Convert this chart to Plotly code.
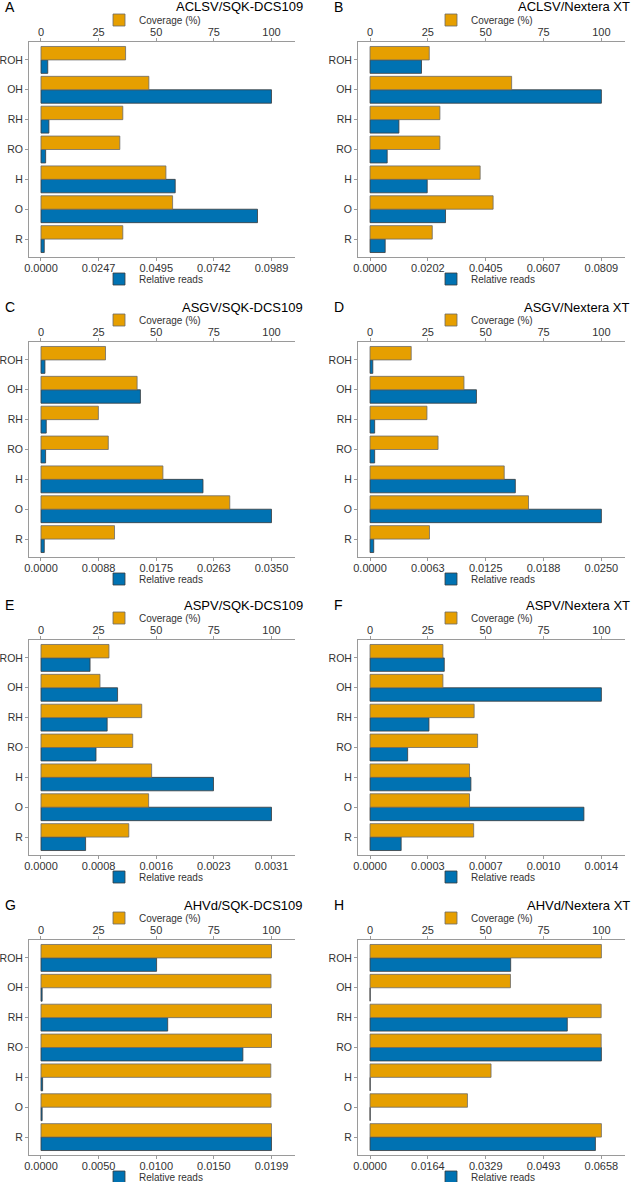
import plotly.graph_objects as go
import numpy as np

# categories from top to bottom as drawn
categories = ['ROH', 'OH', 'RH', 'RO', 'H', 'O', 'R']

panel_letters = ['A', 'B', 'C', 'D', 'E', 'F', 'G', 'H']
panel_titles = [
  'ACLSV/SQK-DCS109', 'ACLSV/Nextera XT',
  'ASGV/SQK-DCS109', 'ASGV/Nextera XT',
  'ASPV/SQK-DCS109', 'ASPV/Nextera XT',
  'AHVd/SQK-DCS109', 'AHVd/Nextera XT',
]

coverage_A = [36.7, 46.8, 35.5, 34.2, 54.2, 57.1, 35.5]
reads_A = [0.0029, 0.0989, 0.0034, 0.0020, 0.0576, 0.0929, 0.0014]
coverage_B = [25.6, 61.2, 30.2, 30.2, 47.6, 53.2, 26.9]
reads_B = [0.0180, 0.0809, 0.0101, 0.0060, 0.0200, 0.0264, 0.0053]
coverage_C = [28.0, 41.7, 24.9, 29.2, 52.9, 81.9, 31.9]
reads_C = [0.0006, 0.0151, 0.0008, 0.0007, 0.0246, 0.0350, 0.0005]
coverage_D = [17.8, 40.6, 24.6, 29.4, 58.0, 68.5, 25.7]
reads_D = [0.0003, 0.0115, 0.0005, 0.0005, 0.0157, 0.0250, 0.0004]
coverage_E = [29.5, 25.6, 43.7, 39.8, 48.0, 46.7, 38.1]
reads_E = [0.00066, 0.00103, 0.00089, 0.00074, 0.00232, 0.00310, 0.00060]
coverage_F = [31.5, 31.5, 45.0, 46.5, 43.0, 43.0, 44.8]
reads_F = [0.000446, 0.00139, 0.000354, 0.000226, 0.000606, 0.001285, 0.000187]
coverage_G = [100.0, 99.8, 100.0, 100.0, 99.7, 99.8, 100.0]
reads_G = [0.00998, 0.0001, 0.01094, 0.01743, 0.00014, 0.0001, 0.0199]
coverage_H = [100.0, 60.7, 99.9, 99.9, 52.3, 42.1, 100.0]
reads_H = [0.0400, 0.00004, 0.0561, 0.0658, 0.00004, 0.00004, 0.0641]

coverage_ticks = [0, 25, 50, 75, 100]
reads_ticktext = {
  'A': ['0.0000', '0.0247', '0.0495', '0.0742', '0.0989'],
  'B': ['0.0000', '0.0202', '0.0405', '0.0607', '0.0809'],
  'C': ['0.0000', '0.0088', '0.0175', '0.0263', '0.0350'],
  'D': ['0.0000', '0.0063', '0.0125', '0.0188', '0.0250'],
  'E': ['0.0000', '0.0008', '0.0016', '0.0023', '0.0031'],
  'F': ['0.0000', '0.0003', '0.0007', '0.0010', '0.0014'],
  'G': ['0.0000', '0.0050', '0.0100', '0.0150', '0.0199'],
  'H': ['0.0000', '0.0164', '0.0329', '0.0493', '0.0658'],
}

coverage = [coverage_A, coverage_B, coverage_C, coverage_D,
            coverage_E, coverage_F, coverage_G, coverage_H]
reads = [reads_A, reads_B, reads_C, reads_D,
         reads_E, reads_F, reads_G, reads_H]

ORANGE = '#E69F00'
BLUE = '#0072B2'
FRAME = '#9a9a9a'
TEXT = '#333333'
FONT = 'Liberation Sans, Arial, sans-serif'

W, H = 634, 1182
col_px = [(29, 295), (358, 625)]
row_top_px = [42, 342, 640, 940]
frame_h = 215
title_right_px = [305, 632]
letter_px = [3, 332]
legend_mid_px = [156, 488]

fig = go.Figure()
layout = dict(
  width=W, height=H,
  margin=dict(l=0, r=0, t=0, b=0, autoexpand=False),
  plot_bgcolor='white', paper_bgcolor='white',
  barmode='overlay',
  font=dict(family=FONT, size=11, color=TEXT),
)
annotations = []

for k in range(8):
  r, c = k // 2, k % 2
  letter = panel_letters[k]
  x0, x1 = col_px[c]
  top = row_top_px[r]
  bottom = top + frame_h
  xdom = [x0 / W, x1 / W]
  ydom = [1 - bottom / H, 1 - top / H]

  xb = 2 * k + 1
  xt = 2 * k + 2
  yi = k + 1
  xb_name = 'x' if xb == 1 else f'x{xb}'
  xt_name = f'x{xt}'
  y_name = 'y' if yi == 1 else f'y{yi}'
  leg_cov = 'legend' if k == 0 else f'legend{2 * k + 1}'
  leg_reads = f'legend{2 * k + 2}'

  m = max(reads[k])
  read_ticks = list(np.linspace(0, m, 5))

  fig.add_trace(go.Bar(
    y=categories, x=coverage[k], orientation='h',
    xaxis=xt_name, yaxis=y_name,
    width=0.45, offset=0,
    marker=dict(color=ORANGE, line=dict(color='#6b6b6b', width=0.8)),
    name='Coverage (%)', legend=leg_cov, showlegend=True,
  ))
  fig.add_trace(go.Bar(
    y=categories, x=reads[k], orientation='h',
    xaxis=xb_name, yaxis=y_name,
    width=0.45, offset=-0.45,
    marker=dict(color=BLUE, line=dict(color='#3a3a3a', width=0.8)),
    name='Relative reads', legend=leg_reads, showlegend=True,
  ))

  axis_common = dict(
    showgrid=False, zeroline=False, showline=True, linecolor=FRAME,
    linewidth=1, ticks='outside', ticklen=3, tickcolor=FRAME,
    tickfont=dict(size=11, color=TEXT), automargin=False,
  )
  layout['xaxis' if xb == 1 else f'xaxis{xb}'] = dict(
    axis_common, domain=xdom, anchor=y_name, side='bottom',
    range=[-0.052 * m, 1.102 * m], ticklabelstandoff=-2,
    tickmode='array', tickvals=read_ticks, ticktext=reads_ticktext[letter],
  )
  layout[f'xaxis{xt}'] = dict(
    axis_common, domain=xdom, anchor=y_name, side='top',
    overlaying=xb_name, range=[-5.2, 110.2], ticklabelstandoff=-2,
    tickmode='array', tickvals=coverage_ticks,
  )
  layout['yaxis' if yi == 1 else f'yaxis{yi}'] = dict(
    axis_common, domain=ydom, anchor=xb_name,
    type='category', categoryorder='array',
    categoryarray=categories[::-1], range=[-0.6, 6.6],
    tickfont=dict(size=10.5, color=TEXT),
  )

  lx = (legend_mid_px[c] - 57) / W
  layout[leg_cov] = dict(
    x=lx, xanchor='left', y=1 - (top - 22) / H, yanchor='middle',
    orientation='h', bgcolor='rgba(0,0,0,0)',
    font=dict(size=10, color=TEXT), itemwidth=30,
  )
  layout[leg_reads] = dict(
    x=lx, xanchor='left', y=1 - (bottom + 22) / H, yanchor='middle',
    orientation='h', bgcolor='rgba(0,0,0,0)',
    font=dict(size=10, color=TEXT), itemwidth=30,
  )

  annotations.append(dict(
    text=panel_titles[k], xref='paper', yref='paper',
    x=title_right_px[c] / W, y=1 - (top - 35) / H,
    xanchor='right', yanchor='middle', showarrow=False,
    font=dict(size=13, color='black', family=FONT),
  ))
  annotations.append(dict(
    text=letter, xref='paper', yref='paper',
    x=letter_px[c] / W, y=1 - (top - 35) / H,
    xanchor='left', yanchor='middle', showarrow=False,
    font=dict(size=14, color='black', family=FONT),
  ))

layout['annotations'] = annotations
fig.update_layout(**layout)

# the page body gets a default 8px margin; drop it so the figure fills the window
fig.write_html(
  'out.html',
  config=dict(displayModeBar=False),
  post_script="document.body.style.margin='0';document.body.style.overflow='hidden';",
)
